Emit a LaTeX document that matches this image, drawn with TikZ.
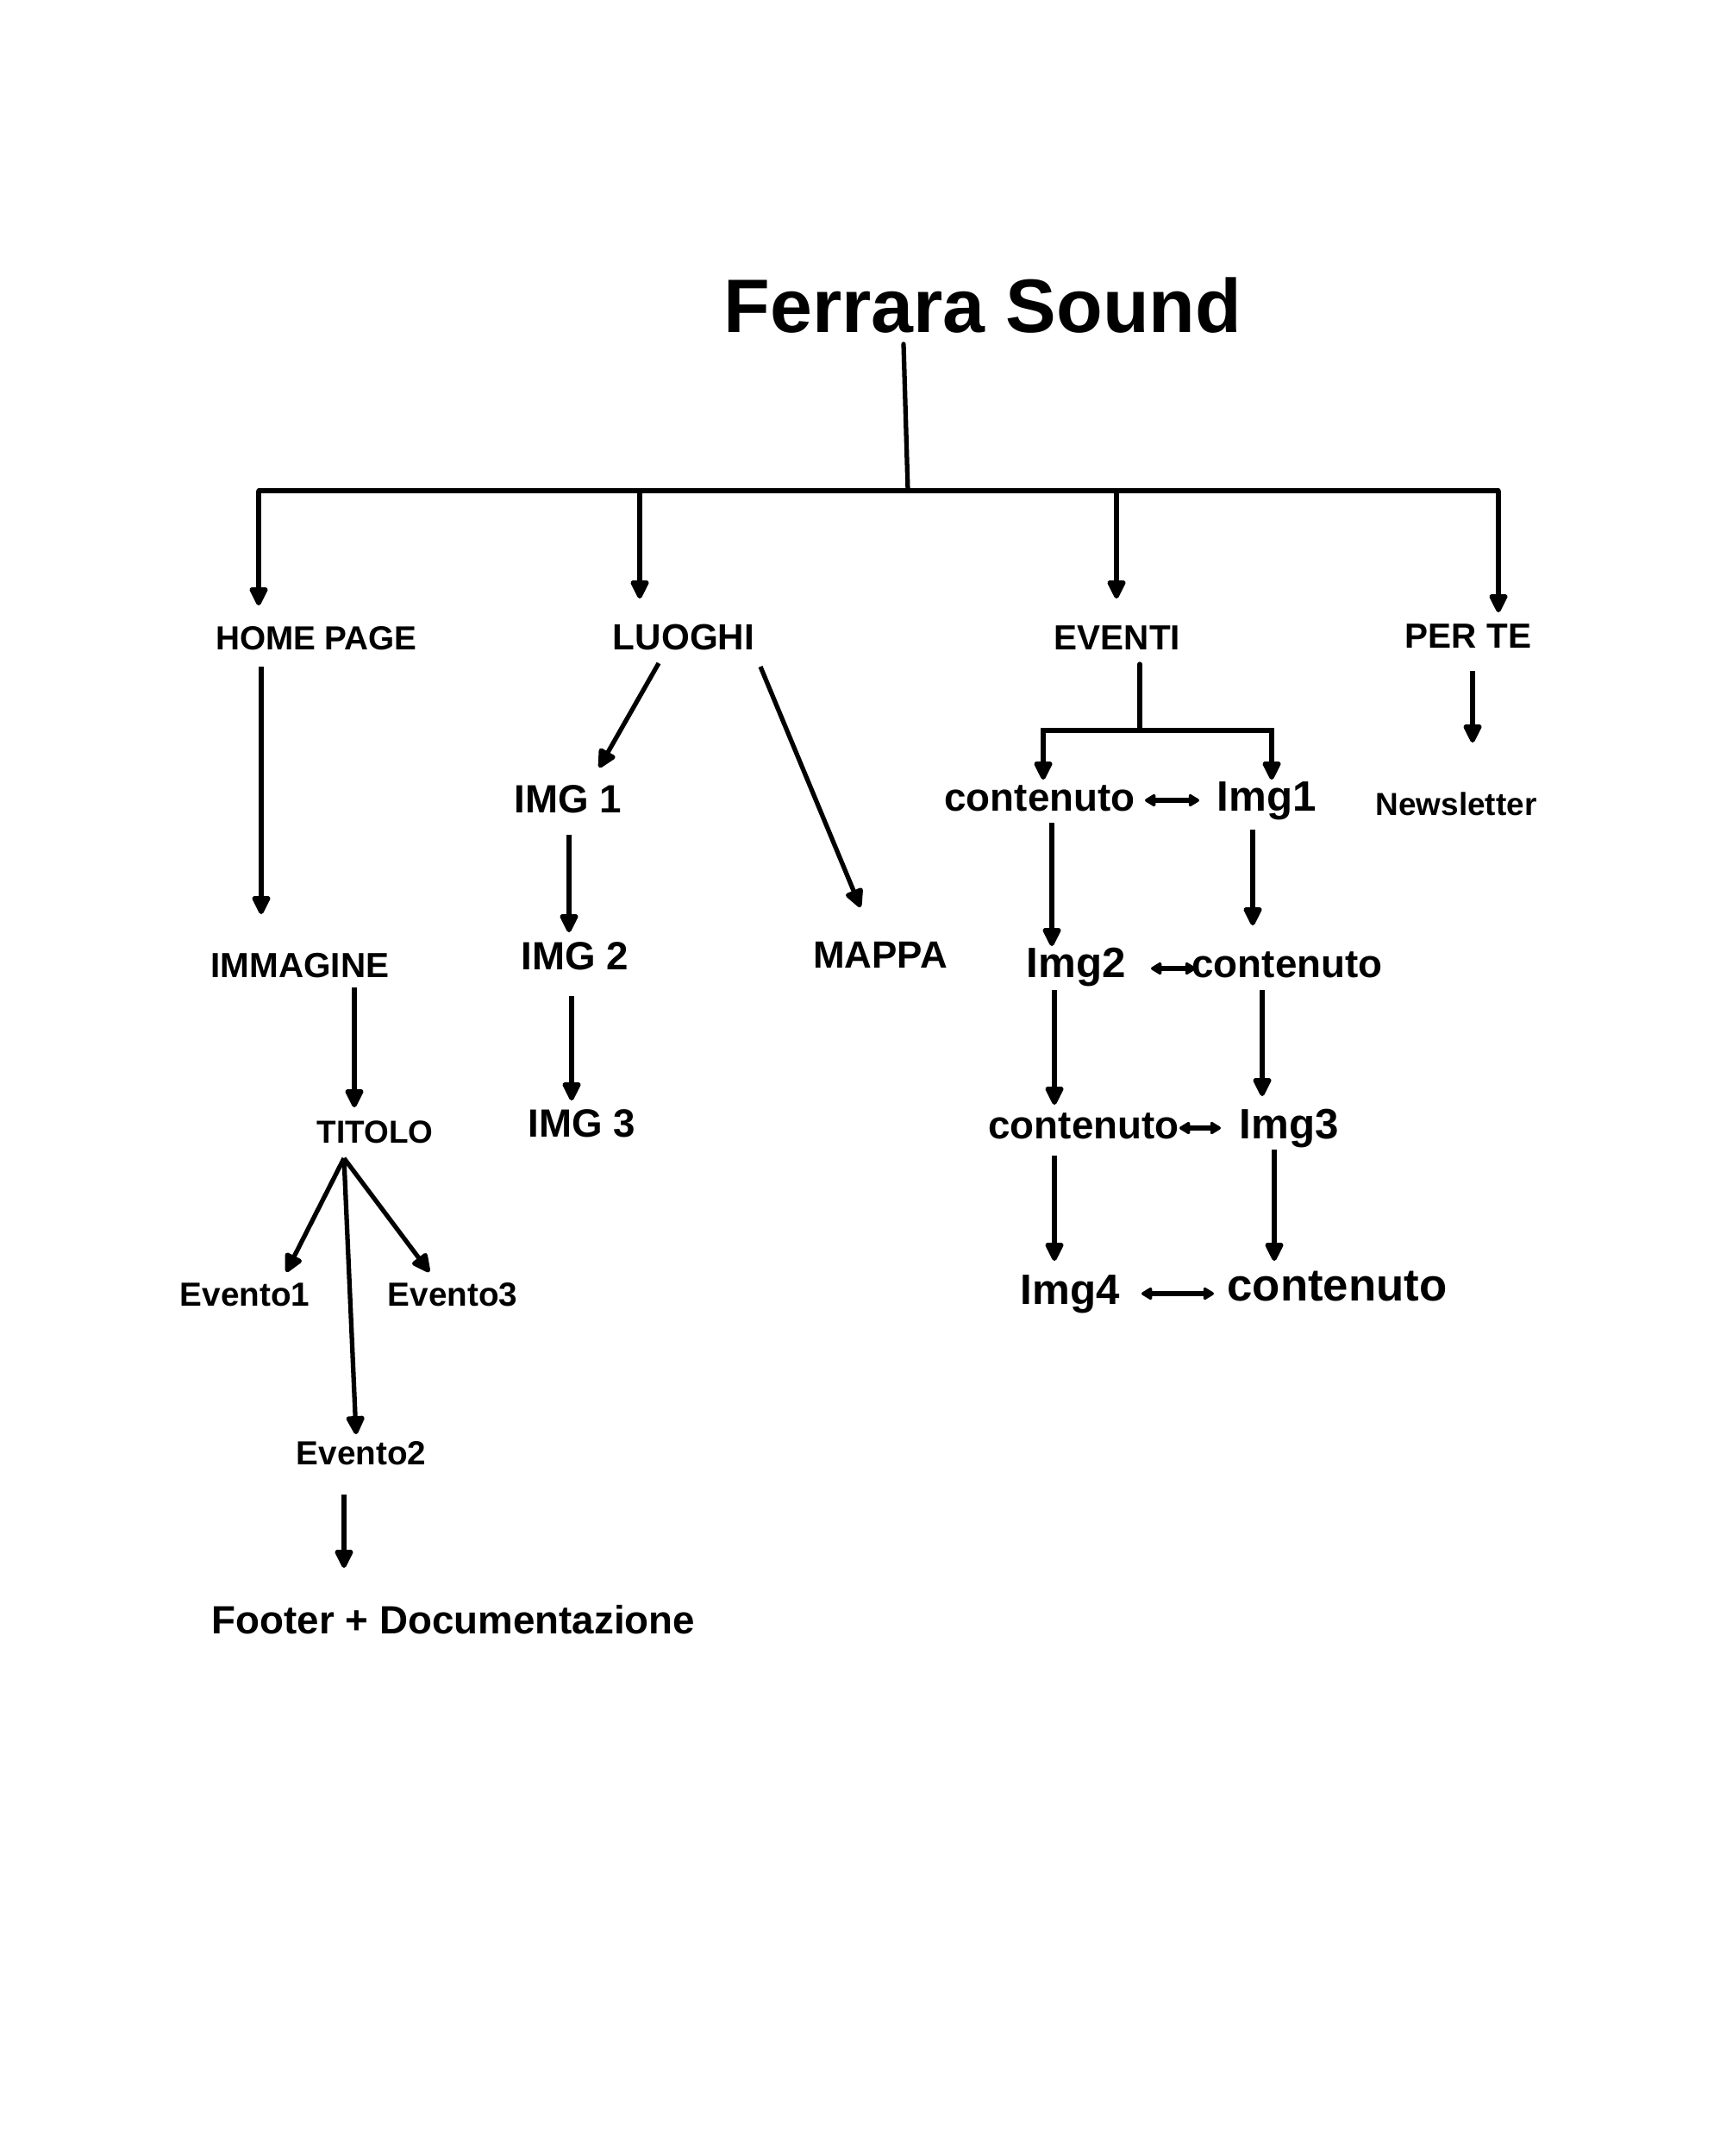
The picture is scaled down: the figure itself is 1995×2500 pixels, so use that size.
\documentclass[tikz,border=0pt]{standalone}
\usepackage{fontspec}
\setmainfont{Liberation Sans}
\usetikzlibrary{arrows.meta,calc}
\tikzset{
  lbl/.style={inner sep=0pt, text height=0.72em, text depth=0pt, font=\fontsize{#1}{#1}\selectfont\bfseries},
  lbl/.default=12,
  arr/.style={line width=1.5pt, -{Triangle[length=7pt,width=6.5pt,round]}},
  ln/.style={line width=1.5pt, line cap=round},
  darr/.style={line width=1.5pt, {Triangle[length=4pt,width=4.5pt,round]}-{Triangle[length=4pt,width=4.5pt,round]}}
}
\begin{document}
\begin{tikzpicture}[x=0.01cm,y=-0.01cm]
\useasboundingbox[fill=white] (0,0) rectangle (1995,2500);
% nodes
\node[lbl=25] (title) at (1140,373) {Ferrara Sound};
\node[lbl=11] (home) at (367,741) {HOME PAGE};
\node[lbl=12] (luoghi) at (793,741) {LUOGHI};
\node[lbl=11.5] (eventi) at (1296,741) {EVENTI};
\node[lbl=11.5] (perte) at (1703,739) {PER TE};
\node[lbl=11.5] (imm) at (348,1121) {IMMAGINE};
\node[lbl=10.5] (titolo) at (435,1313) {TITOLO};
\node[lbl=11] (ev1) at (284,1502) {Evento1};
\node[lbl=11] (ev3) at (525,1502) {Evento3};
\node[lbl=11] (ev2) at (419,1686) {Evento2};
\node[lbl=13] (footer) at (526,1882) {Footer + Documentazione};
\node[lbl=13] (img1) at (659,930) {IMG 1};
\node[lbl=13] (img2) at (667,1112) {IMG 2};
\node[lbl=13] (img3) at (675,1306) {IMG 3};
\node[lbl=12.5] (mappa) at (1021,1110) {MAPPA};
\node[lbl=13] (c1) at (1206,928) {contenuto};
\node[lbl=14] (i1) at (1469,928) {Img1};
\node[lbl=14] (g2) at (1248,1121) {Img2};
\node[lbl=13] (c2) at (1493,1121) {contenuto};
\node[lbl=13] (c3) at (1257,1308) {contenuto};
\node[lbl=14] (g3) at (1495,1308) {Img3};
\node[lbl=14] (g4) at (1241,1500) {Img4};
\node[lbl=15] (c4) at (1551,1496) {contenuto};
\node[lbl=10.5] (news) at (1689,933) {Newsletter};
% junctions
\coordinate (root) at (1053,569);
\coordinate (b1) at (300,569);
\coordinate (b2) at (742,569);
\coordinate (b3) at (1295,569);
\coordinate (b4) at (1738,569);
\coordinate (ej) at (1322,847);
% connectors
\draw[ln] ($(title)+(-92,26)$) -- (root);
\draw[ln] (b1) -- (b4);
\draw[arr] (b1) -- ($(home)+(-67,-39)$);
\draw[arr] (b2) -- ($(luoghi)+(-51,-47)$);
\draw[arr] (b3) -- ($(eventi)+(-1,-47)$);
\draw[arr] (b4) -- ($(perte)+(35,-29)$);
% home page branch
\draw[arr] ($(home)+(-64,32)$) -- ($(imm)+(-45,-61)$);
\draw[arr] ($(imm)+(63,24)$) -- ($(titolo)+(-24,-29)$);
\coordinate (tapex) at ($(titolo)+(-36,30)$);
\draw[arr] (tapex) -- ($(ev1)+(48,-27)$);
\draw[arr] (tapex) -- ($(ev3)+(-27,-27)$);
\draw[arr] (tapex) -- ($(ev2)+(-6,-23)$);
\draw[arr] ($(ev2)+(-20,47)$) -- ($(footer)+(-127,-64)$);
% luoghi branch
\draw[arr] ($(luoghi)+(-29,28)$) -- ($(img1)+(36,-40)$);
\draw[arr] ($(luoghi)+(89,32)$) -- ($(mappa)+(-23,-58)$);
\draw[arr] ($(img1)+(1,38)$) -- ($(img2)+(-7,-31)$);
\draw[arr] ($(img2)+(-4,43)$) -- ($(img3)+(-12,-30)$);
% eventi branch
\draw[ln] ($(eventi)+(26,29)$) -- (ej);
\draw[arr] (ej) -| ($(c1)+(4,-24)$);
\draw[arr] (ej) -| ($(i1)+(6,-24)$);
\draw[darr] ($(c1)+(122,0)$) -- ($(i1)+(-78,0)$);
\draw[arr] ($(c1)+(14,26)$) -- ($(g2)+(-28,-24)$);
\draw[arr] ($(i1)+(-16,34)$) -- ($(c2)+(-40,-48)$);
\draw[darr] ($(g2)+(87,2)$) -- ($(c2)+(-106,2)$);
\draw[arr] ($(g2)+(-25,27)$) -- ($(c3)+(-34,-27)$);
\draw[arr] ($(c2)+(-29,27)$) -- ($(g3)+(-31,-37)$);
\draw[darr] ($(c3)+(111,0)$) -- ($(g3)+(-79,0)$);
\draw[arr] ($(c3)+(-34,32)$) -- ($(g4)+(-18,-38)$);
\draw[arr] ($(g3)+(-17,25)$) -- ($(c4)+(-73,-34)$);
\draw[darr] ($(g4)+(83,0)$) -- ($(c4)+(-143,4)$);
% per te branch
\draw[arr] ($(perte)+(5,39)$) -- ($(news)+(19,-72)$);
\end{tikzpicture}
\end{document}
